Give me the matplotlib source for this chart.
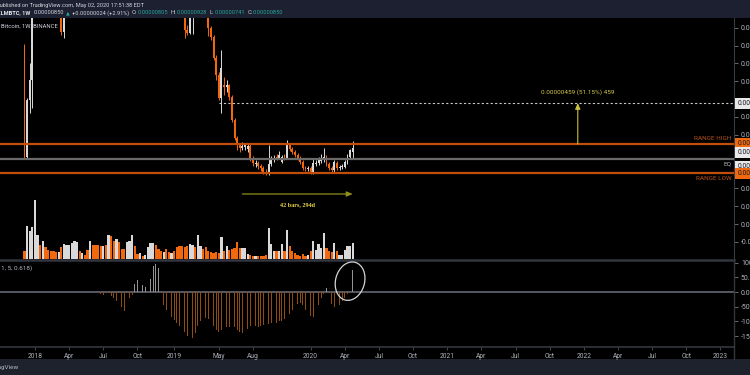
import numpy as np
import pandas as pd
import matplotlib
matplotlib.use('Agg')
import matplotlib.pyplot as plt
import matplotlib.dates as mdates
from datetime import datetime
from matplotlib.patches import Ellipse, Rectangle
from matplotlib.lines import Line2D
from matplotlib.transforms import ScaledTranslation, blended_transform_factory

plt.rcParams['font.family'] = ['Roboto', 'DejaVu Sans']

# XLMBTC weekly candles (Binance), prices in satoshi (1e-8 BTC)
first_week = '2017-12-04'
opens = [1995, 751, 1390, 1614, 2900, 4700, 5400, 4500, 4900, 4300,
         3900, 3600, 3300, 2900, 3000, 2151, 2700, 3000, 3300, 3700,
         4100, 4300, 4000, 4050, 3900, 3600, 3900, 3700, 3500, 3300,
         3200, 3300, 3100, 3600, 3300, 3100, 3400, 3200, 3100, 3000,
         3300, 3600, 4000, 3800, 3700, 3750, 3650, 3700, 3900, 4200,
         4500, 4100, 3800, 3600, 3650, 3400, 3300, 3350, 3100, 2900,
         2700, 2500, 2174, 2140, 2400, 2800, 2650, 2900, 2950, 2800,
         2600, 2196, 2095, 1860, 1670, 1412, 1558, 1535, 1558, 1423,
         1166, 964, 886, 852, 863, 841, 875, 740, 673, 684,
         651, 628, 583, 572, 673, 718, 751, 740, 695, 751,
         740, 886, 841, 807, 774, 740, 695, 628, 617, 628,
         583, 673, 684, 707, 729, 751, 673, 628, 606, 684,
         628, 639, 639, 695, 751, 805]
highs = [2017, 1412, 1804, 3300, 5600, 6000, 5700, 5300, 5000, 4400,
         4100, 3800, 3400, 3200, 3100, 2900, 3100, 3400, 3800, 4200,
         4500, 4400, 4200, 4150, 4000, 4000, 4000, 3800, 3600, 3400,
         3400, 3350, 3700, 3700, 3400, 3500, 3450, 3300, 3200, 3400,
         3700, 4100, 4100, 3900, 3850, 3800, 3750, 4000, 4300, 4700,
         4600, 4200, 3900, 3750, 3700, 3500, 3450, 3400, 3200, 3000,
         2800, 2550, 2230, 2500, 2900, 2900, 3000, 3100, 3000, 2850,
         2650, 2219, 2118, 1894, 1703, 1950, 1647, 1614, 1569, 1446,
         1188, 987, 908, 919, 908, 897, 897, 763, 718, 707,
         673, 651, 617, 886, 763, 774, 785, 819, 774, 785,
         942, 908, 863, 830, 796, 763, 718, 651, 651, 651,
         740, 718, 751, 785, 852, 774, 695, 651, 718, 707,
         662, 673, 718, 785, 841, 928]
lows = [740, 740, 1244, 1300, 2800, 4300, 4100, 4200, 3900, 3600,
        3300, 2900, 2600, 2500, 2118, 2084, 2600, 2900, 3200, 3600,
        4000, 3900, 3850, 3800, 3500, 3500, 3600, 3400, 3200, 3100,
        3100, 3000, 3050, 3200, 3000, 3000, 3100, 3050, 2950, 2950,
        3250, 3550, 3700, 3650, 3600, 3600, 3600, 3650, 3850, 4100,
        4000, 3700, 3500, 3550, 3350, 3250, 3250, 3000, 2850, 2650,
        2450, 2084, 2118, 2130, 2130, 2500, 2600, 2800, 2700, 2450,
        2107, 2062, 1838, 1614, 1390, 1244, 1446, 1479, 1390, 1143,
        942, 830, 807, 830, 830, 807, 707, 651, 639, 617,
        595, 561, 550, 550, 651, 695, 718, 729, 684, 718,
        729, 819, 785, 751, 718, 673, 606, 595, 595, 561,
        561, 651, 662, 684, 695, 651, 606, 583, 583, 606,
        606, 617, 628, 673, 729, 741]
closes = [751, 1390, 1614, 2900, 4700, 5400, 4500, 4900, 4300, 3900,
          3600, 3300, 2900, 3000, 2151, 2700, 3000, 3300, 3700, 4100,
          4300, 4000, 4050, 3900, 3600, 3900, 3700, 3500, 3300, 3200,
          3300, 3100, 3600, 3300, 3100, 3400, 3200, 3100, 3000, 3300,
          3600, 4000, 3800, 3700, 3750, 3650, 3700, 3900, 4200, 4500,
          4100, 3800, 3600, 3650, 3400, 3300, 3350, 3100, 2900, 2700,
          2500, 2174, 2140, 2400, 2800, 2650, 2900, 2950, 2800, 2600,
          2196, 2095, 1860, 1670, 1412, 1748, 1535, 1558, 1423, 1166,
          964, 886, 852, 875, 886, 875, 740, 684, 684, 651,
          628, 583, 572, 673, 718, 740, 740, 774, 751, 740,
          886, 841, 807, 774, 740, 695, 628, 617, 628, 583,
          684, 684, 718, 740, 751, 673, 628, 606, 695, 628,
          639, 651, 695, 751, 826, 850]
volume = [8, 33, 28, 32, 59, 24, 14, 18, 12, 9,
          8, 8, 7, 7, 12, 15, 14, 14, 16, 18,
          17, 8, 6, 4, 9, 18, 14, 14, 14, 13,
          13, 14, 24, 23, 18, 20, 17, 10, 10, 17,
          18, 24, 13, 5, 6, 3, 4, 12, 16, 16,
          14, 10, 8, 7, 10, 7, 6, 8, 12, 13,
          13, 12, 13, 15, 14, 12, 24, 13, 10, 12,
          8, 7, 6, 7, 6, 22, 8, 13, 9, 10,
          11, 17, 11, 11, 11, 5, 4, 3, 3, 3,
          3, 3, 4, 31, 15, 8, 8, 8, 15, 8,
          29, 13, 8, 6, 4, 3, 5, 3, 4, 8,
          18, 9, 15, 11, 26, 11, 8, 7, 16, 8,
          4, 4, 9, 13, 13, 16]
osc = [None] * 29 + [-8,
       -10, -5, -4, -12, -20, -30, -40, -52, -64, -70,
       -20, -10, 28, 42, 28, 23, 17, 15, 46, 88,
       95, 81, 40, -45, -60, -75, -85, -95, -105, -115,
       -125, -135, -150, -158, -155, -140, -115, -100, -95, -88,
       -92, -100, -115, -130, -135, -130, -125, -120, -118, -115,
       -118, -130, -135, -140, -135, -125, -115, -112, -115, -118,
       -115, -112, -110, -108, -106, -105, -104, -100, -97, -92,
       -88, -75, -60, -48, -40, -38, -45, -60, -75, -82,
       -85, -70, -45, -20, -5, 14, -28, -40, -50, -57,
       -45, -30, -20, -8, 14, 75]

range_high = 897
range_low = 572
eq_level = 734
target = 1356
bars_start, bars_end = 83, 125

tick_dates = ['2018-01-01', '2018-04-02', '2018-07-02', '2018-10-01', '2019-01-07',
              '2019-05-06', '2019-08-05', '2020-01-06', '2020-04-06', '2020-07-06',
              '2020-10-05', '2021-01-04', '2021-04-05', '2021-07-05', '2021-10-04',
              '2022-01-03', '2022-04-04', '2022-07-04', '2022-10-03', '2023-01-02']
tick_labels = ['2018', 'Apr', 'Jul', 'Oct', '2019', 'May', 'Aug', '2020', 'Apr', 'Jul',
               'Oct', '2021', 'Apr', 'Jul', 'Oct', '2022', 'Apr', 'Jul', 'Oct', '2023']
price_ticks = [-200, 0, 200, 400, 1000, 1200, 1600, 1800, 2000, 2200]  # others hidden under tags
osc_ticks = [100, 50, 0, -50, -100, -150]

UP = '#d9d9d9'
DOWN = '#f2680e'
LINE_OR = '#c24e0c'
AXCOL = '#b2b5be'
BORDER = '#363a45'

W, H = 750.0, 375.0


def box(x0, y0, x1, y1):
    return [x0 / W, 1 - y1 / H, (x1 - x0) / W, (y1 - y0) / H]


fig = plt.figure(figsize=(7.5, 3.75), dpi=100, facecolor='black')
ax_v = fig.add_axes(box(0, 179, 734, 259))
ax_p = fig.add_axes(box(0, 18, 734, 259))
ax_o = fig.add_axes(box(0, 260, 734, 347))
for a in (ax_v, ax_p, ax_o):
    a.set_facecolor('none')
    for s in a.spines.values():
        s.set_visible(False)

dates = pd.date_range(first_week, periods=len(closes), freq='7D')
x = mdates.date2num(dates.to_pydatetime())
o, h, l, c = (np.array(v, dtype=float) for v in (opens, highs, lows, closes))
col = np.where(c >= o, UP, DOWN)

x0 = mdates.date2num(datetime(2018, 1, 1)) - 93.3
xlim = (x0, x0 + 1956.8)

# volume overlay
ax_v.bar(x, volume, width=6, color=col, lw=0)
ax_v.set_ylim(0, 80)
ax_v.set_xlim(*xlim)
ax_v.set_xticks([])
ax_v.set_yticks([])

# candles
ax_p.vlines(x, l, h, colors=col, lw=0.7, zorder=2)
ax_p.bar(x, np.maximum(np.abs(c - o), 8), bottom=np.minimum(o, c), width=5,
         color=col, lw=0, zorder=2)
ax_p.set_xlim(*xlim)
ax_p.set_ylim(-391, 2308)
ax_p.set_xticks([])
ax_p.yaxis.tick_right()
ax_p.set_yticks(price_ticks)
ax_p.set_yticklabels([f'{v * 1e-8:.8f}' for v in price_ticks])
ax_p.tick_params(axis='y', colors='#787b86', labelcolor=AXCOL, labelsize=5,
                 length=3, width=0.6, pad=2)
ax_p.spines['right'].set_visible(True)
ax_p.spines['right'].set_color(BORDER)

# range levels
ax_p.axhline(range_high, color=LINE_OR, lw=1.6, zorder=3)
ax_p.axhline(range_low, color=LINE_OR, lw=1.6, zorder=3)
ax_p.axhline(eq_level, color='#6a6a6a', lw=1.6, zorder=3)
ax_p.hlines(target, x[74], xlim[1], colors='#c8c8c8', linestyles=(0, (2, 2)), lw=0.8, zorder=3)

rt = blended_transform_factory(ax_p.transAxes, ax_p.transData)
ax_p.annotate('RANGE HIGH', (0.997, range_high), xycoords=rt, xytext=(0, 2.5),
              textcoords='offset points', ha='right', va='bottom', fontsize=4.6, color='#b6531c')
ax_p.annotate('EQ', (0.997, eq_level), xycoords=rt, xytext=(0, -2),
              textcoords='offset points', ha='right', va='top', fontsize=4.6, color=AXCOL)
ax_p.annotate('RANGE LOW', (0.997, range_low), xycoords=rt, xytext=(0, -2),
              textcoords='offset points', ha='right', va='top', fontsize=4.6, color='#b6531c')

# measurement tools
xm = mdates.date2num(datetime(2021, 12, 18))
ax_p.annotate('', xy=(xm, target), xytext=(xm, range_high),
              arrowprops=dict(arrowstyle='-|>,head_length=0.35,head_width=0.15',
                              color='#c9c23a', lw=0.8, shrinkA=0, shrinkB=0))
ax_p.annotate(f'0.00000459 (51.15%) {target - range_high}', (xm, target), xytext=(0, 8),
              textcoords='offset points', ha='center', va='center', fontsize=4.6, color='#d2c64a')
ya = 337
ax_p.annotate('', xy=(x[bars_end], ya), xytext=(x[bars_start], ya),
              arrowprops=dict(arrowstyle='-|>,head_length=0.35,head_width=0.15',
                              color='#8f8f1e', lw=0.9, shrinkA=0, shrinkB=0))
nb = bars_end - bars_start
ax_p.annotate(f'{nb} bars, {nb * 7}d', ((x[bars_start] + x[bars_end]) / 2, ya), xytext=(0, -7.5),
              textcoords='offset points', ha='center', va='center', fontsize=4.4,
              color='#e3d447', fontweight='bold', family=['Liberation Serif', 'DejaVu Serif'])

# right scale price tags
def tag(val, fc, dy=0):
    ax_p.annotate(f'{val * 1e-8:.8f}', (1, val), xycoords=rt, xytext=(2.5, dy),
                  textcoords='offset points', ha='left', va='center', fontsize=4.8,
                  color='#131722', annotation_clip=False, zorder=6,
                  bbox=dict(boxstyle='square,pad=0.3', fc=fc, ec='none'))

tag(target, '#e8e8e8')
tag(range_high, '#f0690f')
tag(closes[-1], '#e8e8e8', -3)
tag(eq_level, '#e8e8e8', -5.5)
tag(range_low, '#f0690f')

# oscillator
ov = np.array([np.nan if v is None else v for v in osc], dtype=float)
m = ~np.isnan(ov)
ax_o.bar(x[m], ov[m], width=2.0, color=np.where(ov[m] >= 0, '#939393', '#8f4d12'), lw=0)
ax_o.axhline(0, color='#5d606b', lw=1.3, zorder=0)
ax_o.set_xlim(*xlim)
ax_o.set_ylim(-187, 109)
ax_o.yaxis.tick_right()
ax_o.set_yticks(osc_ticks)
ax_o.set_yticklabels([f'{v:.3f}' for v in osc_ticks])
ax_o.tick_params(axis='y', colors='#787b86', labelcolor=AXCOL, labelsize=5,
                 length=3, width=0.6, pad=2)
ax_o.set_xticks(mdates.date2num([datetime.fromisoformat(d) for d in tick_dates]))
ax_o.set_xticklabels(tick_labels)
ax_o.tick_params(axis='x', colors='#50535e', labelcolor=AXCOL, labelsize=4.8,
                 length=2, width=0.6, pad=2)
for side, lw in (('top', 1.8), ('bottom', 1.2), ('right', 1.0)):
    ax_o.spines[side].set_visible(True)
    ax_o.spines[side].set_color('#33363f')
    ax_o.spines[side].set_linewidth(lw)
ax_o.text(0.002, 0.94, '1, 5, 0.618)', transform=ax_o.transAxes, ha='left', va='top',
          fontsize=4.6, color=AXCOL)

# hand drawn circle around the last histogram bars
anchor = ScaledTranslation(x[124], 37, ax_o.transData)
ax_o.add_patch(Ellipse((0, 0), 0.29, 0.39, angle=-15, fill=False, ec='#d4d4d4', lw=0.9,
                       transform=fig.dpi_scale_trans + anchor, clip_on=False, zorder=5))

# header / footer / frame
fig.add_artist(Rectangle((0, 1 - 18 / H), 1, 18 / H, transform=fig.transFigure,
                         fc='#1c2030', ec='none', zorder=0))
fig.add_artist(Rectangle((0, 0), 1, 16 / H, transform=fig.transFigure,
                         fc='#1e222d', ec='none', zorder=0))
fig.add_artist(Line2D([734 / W, 734 / W], [16 / H, 1 - 347 / H], transform=fig.transFigure,
                      color='#33363f', lw=1.0))

renderer = fig.canvas.get_renderer()
TEAL = '#26a69a'
HFS = 4.1


def ftext(px, py, s, color='#d1d4dc', fontsize=HFS, **kw):
    return fig.text(px / W, 1 - py / H, s, color=color, va='center',
                    fontsize=fontsize, **kw)


def run(px, py, parts):
    # lay out text pieces one after another on a line
    cur = px
    for s, color, gap, kw in parts:
        t = ftext(cur, py, s, color=color, **kw)
        cur = t.get_window_extent(renderer).x1 + gap


ftext(-4, 5.5, 'Published on TradingView.com, May 02, 2020 17:51:38 EDT')
run(-3, 13, [('XLMBTC, 1W', '#e6e8ee', 3, dict(fontweight='bold')),
             ('0.00000850', '#d1d4dc', 2, {}),
             ('\u25b2', TEAL, 2, dict(fontsize=3.5)),
             ('+0.00000024 (+2.91%)', '#d1d4dc', 3, {}),
             ('O:', '#d1d4dc', 0.5, {}), ('0.00000805', TEAL, 2.5, {}),
             ('H:', '#d1d4dc', 0.5, {}), ('0.00000928', TEAL, 2.5, {}),
             ('L:', '#d1d4dc', 0.5, {}), ('0.00000741', TEAL, 2.5, {}),
             ('C:', '#d1d4dc', 0.5, {}), ('0.00000850', TEAL, 0, {})])
ftext(1, 26, 'Bitcoin, 1W, BINANCE', fontsize=4.2)
ftext(19, 367, 'TradingView', color=AXCOL, ha='right', fontsize=4.6)

fig.savefig('out.png', dpi=100, facecolor='black')
